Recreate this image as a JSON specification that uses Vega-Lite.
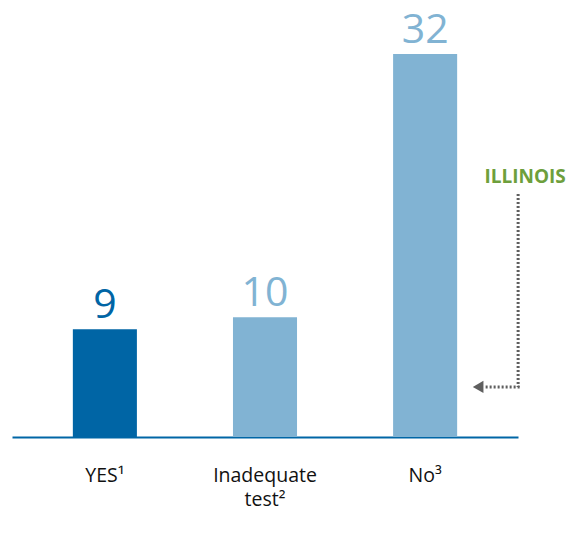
{
  "$schema": "https://vega.github.io/schema/vega-lite/v6.json",
  "width": 506,
  "height": 431,
  "autosize": {"type": "none"},
  "padding": {"left": 12, "top": 6, "right": 57, "bottom": 105},
  "background": "white",
  "config": {"view": {"stroke": null}, "font": "Open Sans"},
  "datasets": {
    "bars": [
      {"cat": "YES¹", "value": 9},
      {"cat": "Inadequate test²", "value": 10},
      {"cat": "No³", "value": 32}
    ],
    "note": [
      {"cat": "No³", "label": "ILLINOIS", "top": 21.2, "lineTop": 20.3, "lineBottom": 4.18}
    ]
  },
  "layer": [
    {
      "data": {"name": "bars"},
      "mark": {"type": "bar"},
      "encoding": {
        "x": {
          "field": "cat", "type": "nominal", "sort": null,
          "scale": {"paddingInner": 0.6, "paddingOuter": 0.38},
          "axis": {
            "title": null, "ticks": false, "domainColor": "#0066a6", "domainWidth": 2,
            "labelAngle": 0, "labelFont": "Open Sans", "labelFontSize": 19.5,
            "labelColor": "#111111", "labelPadding": 29, "labelLineHeight": 24,
            "labelExpr": "datum.value == 'Inadequate test²' ? ['Inadequate', 'test²'] : datum.label"
          }
        },
        "y": {"field": "value", "type": "quantitative", "scale": {"domain": [0, 36], "nice": false}, "axis": null},
        "color": {"field": "cat", "type": "nominal", "legend": null,
          "scale": {"domain": ["YES¹", "Inadequate test²", "No³"], "range": ["#0065a5", "#81b3d3", "#81b3d3"]}}
      }
    },
    {
      "data": {"name": "bars"},
      "mark": {"type": "text", "baseline": "alphabetic", "dy": -11, "fontSize": 41, "font": "Open Sans"},
      "encoding": {
        "x": {"field": "cat", "type": "nominal", "sort": null},
        "y": {"field": "value", "type": "quantitative"},
        "text": {"field": "value", "type": "quantitative"},
        "color": {"field": "cat", "type": "nominal", "legend": null}
      }
    },
    {
      "data": {"name": "note"},
      "mark": {"type": "text", "baseline": "alphabetic", "xOffset": 100, "fontSize": 19, "fontWeight": "bold", "font": "Open Sans", "color": "#6e9f3c"},
      "encoding": {
        "x": {"field": "cat", "type": "nominal", "sort": null},
        "y": {"field": "top", "type": "quantitative"},
        "text": {"field": "label", "type": "nominal"}
      }
    },
    {
      "data": {"name": "note"},
      "mark": {"type": "rule", "xOffset": 93, "strokeDash": [2, 2], "strokeWidth": 3, "color": "#5f5f5f"},
      "encoding": {
        "x": {"field": "cat", "type": "nominal", "sort": null},
        "y": {"field": "lineTop", "type": "quantitative"},
        "y2": {"field": "lineBottom"}
      }
    },
    {
      "data": {"name": "note"},
      "mark": {"type": "rule", "xOffset": 94.5, "x2Offset": 59, "strokeDash": [2, 2], "strokeWidth": 3, "color": "#5f5f5f"},
      "encoding": {
        "x": {"field": "cat", "type": "nominal", "sort": null},
        "x2": {"field": "cat"},
        "y": {"field": "lineBottom", "type": "quantitative"}
      }
    },
    {
      "data": {"name": "note"},
      "mark": {"type": "point", "shape": "triangle-left", "filled": true, "size": 150, "opacity": 1, "xOffset": 53, "color": "#5f5f5f"},
      "encoding": {
        "x": {"field": "cat", "type": "nominal", "sort": null},
        "y": {"field": "lineBottom", "type": "quantitative"}
      }
    }
  ]
}
